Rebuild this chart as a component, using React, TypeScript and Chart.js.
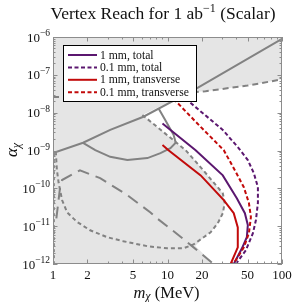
import React, { useEffect, useRef } from 'react';
import { Chart, registerables } from 'chart.js';
Chart.register(...registerables);

type P = [number, number];

// ---------- data (m_chi in MeV, alpha_chi) ----------
const X_TICKS = [1, 2, 5, 10, 20, 50, 100];
const X_MINOR = [3, 4, 6, 7, 8, 9, 30, 40, 60, 70, 80, 90];
const Y_EXPONENTS = [-6, -7, -8, -9, -10, -11, -12];

const LEGEND_LABELS = ['1 mm, total', '0.1 mm, total', '1 mm, transverse', '0.1 mm, transverse'];

const p1mmTotal: P[] = [
  [9.04, 5.2e-9], [17.6, 1.02e-9], [30.4, 2.2e-10], [40.3, 5.5e-11], [47.4, 2.2e-11],
  [50.3, 1.07e-11], [49.3, 5.1e-12], [44.7, 2.6e-12], [37.9, 1e-12],
];
const p01mmTotal: P[] = [
  [10.6, 5.0e-8], [17.6, 1.4e-8], [30.4, 3.5e-9], [41.1, 1.23e-9], [50.3, 5.6e-10],
  [56.8, 2.5e-10], [61.6, 1.07e-10], [61.6, 4.1e-11], [59.2, 1.45e-11], [55.7, 6.5e-12],
  [48.3, 2.3e-12], [39.5, 1e-12],
];
const r1mmTrans: P[] = [
  [9.04, 1.4e-9], [10.2, 1.02e-9], [19.5, 2.2e-10], [31.0, 4.9e-11], [37.9, 2.2e-11],
  [41.1, 9.3e-12], [41.1, 2.75e-12], [35.6, 1e-12],
];
const r01mmTrans: P[] = [
  [7.1, 9.3e-8], [11.1, 2.45e-8], [19.5, 4.2e-9], [31.0, 1.02e-9], [39.5, 2.7e-10],
  [46.4, 1.07e-10], [51.4, 4.1e-11], [53.5, 1.74e-11], [51.4, 6.5e-12], [46.4, 2.75e-12],
  [39.5, 1.26e-12], [36.4, 1e-12],
];

const boundUpperSolid: P[] = [
  [1, 8.5e-10], [1.83, 1.6e-9], [3.16, 3.5e-9], [6.16, 7.8e-9], [18.3, 4.5e-8], [100, 8.9e-7],
];
const boundUpperDash: P[] = [
  [1, 2.6e-8], [5, 2.7e-8], [10, 2.9e-8], [15.6, 3.4e-8], [21.5, 3.7e-8], [50, 5.2e-8], [100, 7.6e-8],
];
const boundArc: P[] = [
  [1.83, 1.6e-9], [2.34, 1.02e-9], [3.16, 6.8e-10], [4.46, 5.6e-10], [6.68, 6.3e-10],
  [8.68, 8.5e-10], [10.6, 1.15e-9], [11.8, 1.6e-9], [11.3, 2.6e-9], [9.8, 5.6e-9], [8.34, 1.3e-8],
];
const boundShortDash: P[] = [
  [6.04, 8.7e-9], [14.4, 1.02e-9], [19.5, 3.6e-10], [30.4, 7.4e-11], [31.6, 4.1e-11],
  [30.4, 2.2e-11], [27.5, 1.2e-11], [23.8, 6.9e-12], [20.7, 5.1e-12], [16.9, 3.3e-12],
  [13.8, 2.6e-12], [10, 2.6e-12], [6.68, 2.95e-12], [4.11, 4.0e-12], [2.98, 5.1e-12],
  [2.11, 7.8e-12], [1.62, 1.3e-11], [1.33, 2.3e-11], [1.2, 4.9e-11], [1.12, 1.4e-10],
  [1.08, 3.2e-10], [1.06, 8.5e-10],
];
const boundEdge: P[] = [[1.022, 8.5e-10], [1.022, 1e-12]];
const boundLongDash: P[] = [
  [1.07, 1.6e-11], [1.15, 1.0e-10], [1.2, 1.66e-10], [1.72, 3.0e-10], [2.58, 1.86e-10],
  [4.46, 6.6e-11], [7.1, 2.3e-11], [7.85, 1.74e-11], [13.5, 4.8e-12], [16.9, 2.75e-12],
  [24.8, 1.05e-12], [25.3, 1e-12],
];

// unexcluded (white) region
const openRegion: P[] = [
  [6.04, 8.7e-9], [15.6, 3.5e-8], [21.5, 3.7e-8], [50, 5.2e-8], [100, 7.6e-8], [100, 1e-12],
  [25.3, 1e-12], [17.5, 3.0e-12], [20.7, 5.1e-12], [23.8, 6.9e-12], [27.5, 1.2e-11],
  [30.4, 2.2e-11], [31.6, 4.1e-11], [30.4, 7.4e-11], [19.5, 3.6e-10], [14.4, 1.02e-9],
];
const openStrip: P[] = [[1, 8.5e-10], [1.022, 8.5e-10], [1.022, 1e-12], [1, 1e-12]];

// ---------- styles ----------
const PURPLE = '#5b176f';
const RED = '#c20a0a';
const GRAY = '#828282';
const SHADE = '#e5e5e5';
const FRAME = '#8c8c8c';
const SERIF = '"Liberation Serif", "Times New Roman", serif';

const legendStyles = [
  { color: PURPLE, dash: [] as number[] },
  { color: PURPLE, dash: [4, 2.5] },
  { color: RED, dash: [] as number[] },
  { color: RED, dash: [4, 2.5] },
];

const toXY = (a: P[]) => a.map(([x, y]) => ({ x, y }));

const decor = {
  id: 'decor',
  beforeDatasetsDraw(chart: any) {
    const { ctx, chartArea: a, scales } = chart;
    const xs = scales.x, ys = scales.y;
    ctx.save();
    ctx.fillStyle = SHADE;
    ctx.fillRect(a.left, a.top, a.right - a.left, a.bottom - a.top);
    ctx.beginPath();
    ctx.rect(a.left, a.top, a.right - a.left, a.bottom - a.top);
    ctx.clip();
    ctx.fillStyle = '#ffffff';
    for (const poly of [openRegion, openStrip]) {
      ctx.beginPath();
      poly.forEach(([m, v], i) => {
        const px = xs.getPixelForValue(m), py = ys.getPixelForValue(v);
        if (i) ctx.lineTo(px, py); else ctx.moveTo(px, py);
      });
      ctx.closePath();
      ctx.fill();
    }
    ctx.restore();
  },
  afterDatasetsDraw(chart: any) {
    const { ctx, chartArea: a, scales } = chart;
    const xs = scales.x, ys = scales.y;
    ctx.save();

    // legend
    const lx0 = 63.5, ly0 = 45.5, lx1 = 196.5, ly1 = 101.5;
    ctx.fillStyle = '#fff';
    ctx.fillRect(lx0, ly0, lx1 - lx0, ly1 - ly0);
    ctx.strokeStyle = '#000';
    ctx.lineWidth = 1;
    ctx.setLineDash([]);
    ctx.strokeRect(lx0, ly0, lx1 - lx0, ly1 - ly0);
    ctx.font = `11.7px ${SERIF}`;
    ctx.textBaseline = 'middle';
    ctx.textAlign = 'left';
    LEGEND_LABELS.forEach((lab, i) => {
      const yy = 55 + i * 12.4;
      ctx.strokeStyle = legendStyles[i].color;
      ctx.lineWidth = 2;
      ctx.setLineDash(legendStyles[i].dash);
      ctx.beginPath();
      ctx.moveTo(68, yy);
      ctx.lineTo(97, yy);
      ctx.stroke();
      ctx.fillStyle = '#111';
      ctx.fillText(lab, 100, yy + 0.5);
    });
    ctx.setLineDash([]);

    // frame
    ctx.strokeStyle = FRAME;
    ctx.lineWidth = 1;
    ctx.strokeRect(a.left + 0.5, a.top + 0.5, a.right - a.left - 1, a.bottom - a.top - 1);

    // ticks
    const tick = (x0: number, y0: number, x1: number, y1: number) => {
      ctx.beginPath(); ctx.moveTo(x0, y0); ctx.lineTo(x1, y1); ctx.stroke();
    };
    for (const v of X_TICKS) {
      const px = Math.round(xs.getPixelForValue(v)) + 0.5;
      tick(px, a.bottom, px, a.bottom - 4.5);
      tick(px, a.top, px, a.top + 4.5);
    }
    for (const v of X_MINOR) {
      const px = Math.round(xs.getPixelForValue(v)) + 0.5;
      tick(px, a.bottom, px, a.bottom - 2.5);
      tick(px, a.top, px, a.top + 2.5);
    }
    for (const e of Y_EXPONENTS) {
      const py = Math.round(ys.getPixelForValue(Math.pow(10, e))) + 0.5;
      tick(a.left, py, a.left + 4.5, py);
      tick(a.right, py, a.right - 4.5, py);
      if (e > -12) {
        for (let k = 2; k <= 9; k++) {
          const q = Math.round(ys.getPixelForValue(k * Math.pow(10, e - 1))) + 0.5;
          tick(a.left, q, a.left + 2.5, q);
          tick(a.right, q, a.right - 2.5, q);
        }
      }
    }

    // x tick labels
    ctx.fillStyle = '#111';
    ctx.font = `13px ${SERIF}`;
    ctx.textAlign = 'center';
    ctx.textBaseline = 'alphabetic';
    for (const v of X_TICKS) {
      ctx.fillText(String(v), xs.getPixelForValue(v), 279);
    }

    // y tick labels: 10^e
    for (const e of Y_EXPONENTS) {
      const py = ys.getPixelForValue(Math.pow(10, e));
      const sup = '\u2212' + String(-e);
      ctx.font = `9.5px ${SERIF}`;
      ctx.textAlign = 'right';
      const sw = ctx.measureText(sup).width;
      ctx.fillText(sup, 50, py - 1);
      ctx.font = `13px ${SERIF}`;
      ctx.fillText('10', 50 - sw, py + 4.5);
    }

    // title
    const t1 = 'Vertex Reach for 1 ab', tsup = '\u22121', t2 = ' (Scalar)';
    const TF = 17.5;
    ctx.textAlign = 'left';
    ctx.font = `${TF}px ${SERIF}`;
    const w1 = ctx.measureText(t1).width, w3 = ctx.measureText(t2).width;
    ctx.font = `12px ${SERIF}`;
    const w2 = ctx.measureText(tsup).width;
    let tx = 163 - (w1 + w2 + w3) / 2;
    ctx.font = `${TF}px ${SERIF}`;
    ctx.fillText(t1, tx, 18.5);
    tx += w1;
    ctx.font = `12px ${SERIF}`;
    ctx.fillText(tsup, tx, 12);
    tx += w2;
    ctx.font = `${TF}px ${SERIF}`;
    ctx.fillText(t2, tx, 18.5);

    // x axis title: m_chi (MeV)
    ctx.font = `italic 16.5px ${SERIF}`;
    const mw = ctx.measureText('m').width;
    ctx.font = `italic 12px ${SERIF}`;
    const cw = ctx.measureText('\u03c7').width;
    ctx.font = `16.5px ${SERIF}`;
    const uw = ctx.measureText(' (MeV)').width;
    let ax = 166.5 - (mw + cw + uw) / 2;
    ctx.font = `italic 16.5px ${SERIF}`;
    ctx.fillText('m', ax, 297.5);
    ax += mw;
    ctx.font = `italic 12px ${SERIF}`;
    ctx.fillText('\u03c7', ax, 299.5);
    ax += cw;
    ctx.font = `16.5px ${SERIF}`;
    ctx.fillText(' (MeV)', ax, 297.5);

    // y axis title: alpha_chi
    ctx.translate(17, 150);
    ctx.rotate(-Math.PI / 2);
    ctx.font = `italic 17px ${SERIF}`;
    const aw = ctx.measureText('\u03b1').width;
    ctx.font = `italic 12px ${SERIF}`;
    const sw2 = ctx.measureText('\u03c7').width;
    let yx = -(aw + sw2) / 2;
    ctx.font = `italic 17px ${SERIF}`;
    ctx.fillText('\u03b1', yx, 0);
    yx += aw;
    ctx.font = `italic 12px ${SERIF}`;
    ctx.fillText('\u03c7', yx, 3);

    ctx.restore();
  },
};

export default function App() {
  const ref = useRef<HTMLCanvasElement>(null);
  useEffect(() => {
    if (!ref.current) return;
    const line = (data: P[], color: string, dash: number[], width = 2) => ({
      data: toXY(data),
      showLine: true,
      borderColor: color,
      backgroundColor: color,
      borderWidth: width,
      borderDash: dash,
      pointRadius: 0,
      fill: false,
      tension: 0,
    });
    const chart = new Chart(ref.current, {
      type: 'scatter',
      data: {
        datasets: [
          line(r1mmTrans, RED, []),
          line(r01mmTrans, RED, [4, 2.5]),
          line(p1mmTotal, PURPLE, []),
          line(p01mmTotal, PURPLE, [4, 2.5]),
          line(boundUpperSolid, GRAY, []),
          line(boundUpperDash, GRAY, [6, 4]),
          line(boundArc, GRAY, []),
          line(boundShortDash, GRAY, [4, 3]),
          line(boundEdge, GRAY, [3, 3], 1.5),
          line(boundLongDash, GRAY, [12, 7]),
        ] as any,
      },
      options: {
        responsive: false,
        animation: false,
        layout: { padding: { left: 53, right: 10, top: 37, bottom: 38 } },
        scales: {
          x: { type: 'logarithmic', min: 1, max: 100, display: false },
          y: { type: 'logarithmic', min: 1e-12, max: 1e-6, display: false },
        },
        plugins: {
          legend: { display: false },
          tooltip: { enabled: false },
          title: { display: false },
        },
      } as any,
      plugins: [decor],
    });
    return () => chart.destroy();
  }, []);
  return (
    <div style={{ position: 'fixed', left: 0, top: 0, width: 292, height: 302 }}>
      <canvas ref={ref} width={292} height={302} style={{ display: 'block' }} />
    </div>
  );
}
